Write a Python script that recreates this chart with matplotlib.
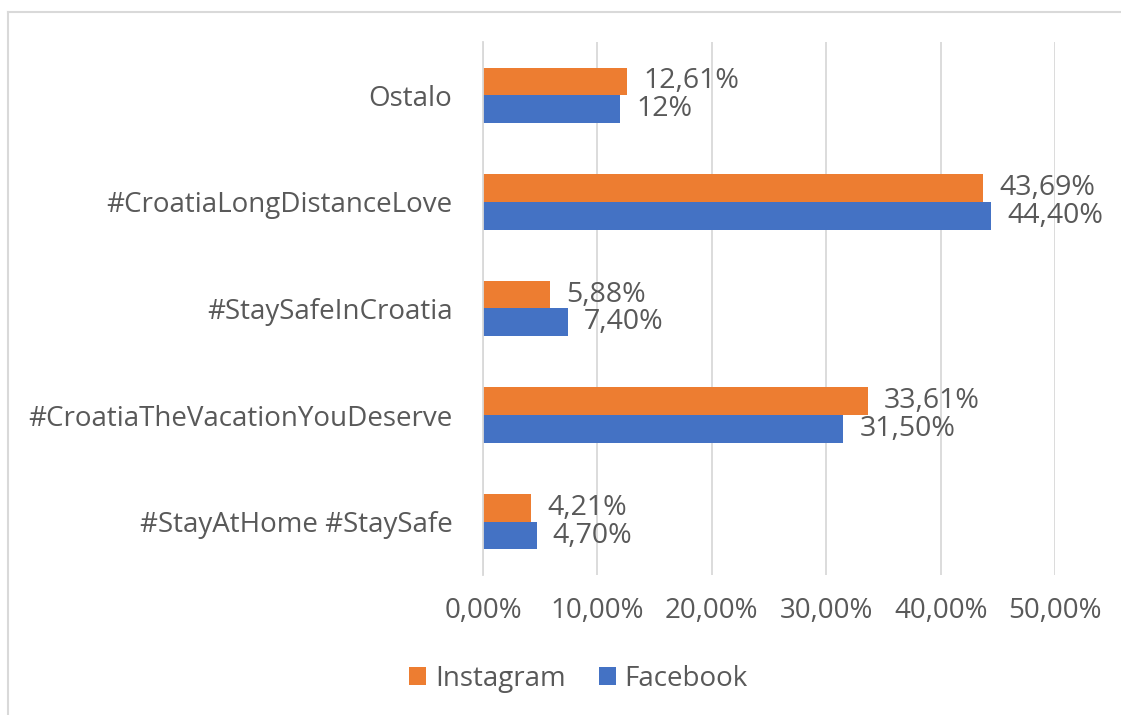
import numpy as np
import matplotlib.pyplot as plt
from matplotlib.lines import Line2D

# data (bottom to top as drawn)
categories = ['#StayAtHome #StaySafe', '#CroatiaTheVacationYouDeserve',
              '#StaySafeInCroatia', '#CroatiaLongDistanceLove', 'Ostalo']
instagram = [4.21, 33.61, 5.88, 43.69, 12.61]
facebook = [4.70, 31.50, 7.40, 44.40, 12.00]
insta_labels = ['4,21%', '33,61%', '5,88%', '43,69%', '12,61%']
fb_labels = ['4,70%', '31,50%', '7,40%', '44,40%', '12%']
xticks = [0, 10, 20, 30, 40, 50]
xtick_labels = ['0,00%', '10,00%', '20,00%', '30,00%', '40,00%', '50,00%']

txt = '#595959'
orange = '#ED7D31'
blue = '#4472C4'

plt.rcParams['font.family'] = ['Open Sans', 'DejaVu Sans']

fig = plt.figure(figsize=(11.21, 7.15), dpi=100)
ax = fig.add_axes([0.4309, 0.1958, 0.5103, 0.7455])

y = np.arange(len(categories))
h = 0.26
ax.barh(y + h / 2, instagram, height=h, color=orange, label='Instagram', zorder=3)
ax.barh(y - h / 2, facebook, height=h, color=blue, label='Facebook', zorder=3)

for i in range(len(categories)):
    ax.text(instagram[i] + 1.4, y[i] + h / 2, insta_labels[i], va='center', ha='left',
            fontsize=20.5, color=txt)
    ax.text(facebook[i] + 1.4, y[i] - h / 2, fb_labels[i], va='center', ha='left',
            fontsize=20.5, color=txt)

ax.set_xlim(0, 50)
ax.set_ylim(-0.5, len(categories) - 0.5)
ax.set_xticks(xticks)
ax.set_xticklabels(xtick_labels)
ax.set_yticks(y)
ax.set_yticklabels(categories)
ax.tick_params(axis='both', length=0, labelsize=20, colors=txt)
ax.tick_params(axis='x', pad=16)
ax.tick_params(axis='y', pad=22)
ax.xaxis.grid(True, color='#d9d9d9', linewidth=1.3, zorder=0)
for s in ['top', 'right', 'bottom']:
    ax.spines[s].set_visible(False)
ax.spines['left'].set_color('#d9d9d9')
ax.spines['left'].set_linewidth(1.3)
ax.spines['left'].set_zorder(4)

fig.legend(loc='center', bbox_to_anchor=(0.516, 0.051), ncol=2, frameon=False,
           fontsize=20, labelcolor=txt, handlelength=0.62, handleheight=0.62,
           handletextpad=0.3, columnspacing=1.2)

# outer chart border (only top and left are inside the crop)
x0, y0 = 8 / 1121, 1 - 12 / 715
fig.add_artist(Line2D([x0, 1.0], [y0, y0], transform=fig.transFigure,
                      color='#d9d9d9', linewidth=1.5))
fig.add_artist(Line2D([x0, x0], [0.0, y0], transform=fig.transFigure,
                      color='#d9d9d9', linewidth=1.5))

fig.savefig('out.png', dpi=100)
